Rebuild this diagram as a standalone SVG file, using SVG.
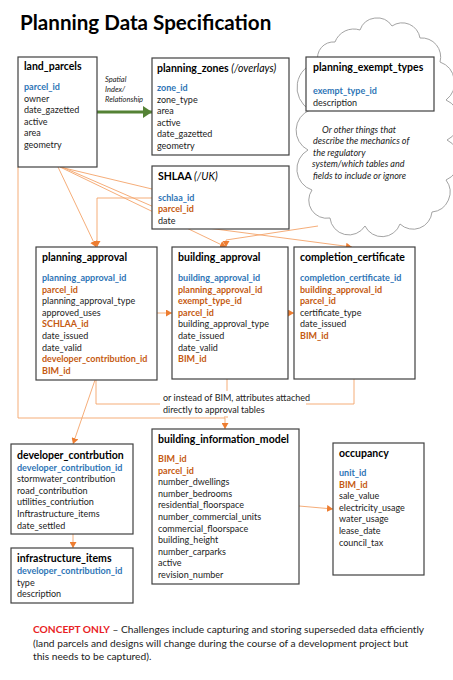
<svg xmlns="http://www.w3.org/2000/svg" width="453" height="680" viewBox="0 0 453 680">
<style>
text{font-family:Lato,"Liberation Sans",sans-serif;fill:#222}
.h{font-size:20.6px;font-weight:bold;fill:#000}
.t{font-size:10.5px;font-weight:bold;fill:#000}
.ti{font-style:italic;font-weight:normal}
.f{font-size:9px}
.pk{fill:#2e75b6;font-weight:bold}
.fk{fill:#c55a11;font-weight:bold}
.it{font-style:italic}
.box{fill:#fff;stroke:#404040;stroke-width:1.2}
.c{fill:none;stroke:#f4a46a;stroke-width:0.9}
.ca{fill:none;stroke:#f4a46a;stroke-width:0.9;marker-end:url(#oa)}
.red{fill:#e81e25;font-weight:bold}
</style>
<defs>
<marker id="oa" markerUnits="userSpaceOnUse" markerWidth="7" markerHeight="7" refX="6" refY="3.5" orient="auto">
<path d="M0,0 L6,3.5 L0,7 Z" fill="#ed7d31"/>
</marker>
<marker id="ga" markerUnits="userSpaceOnUse" markerWidth="10" markerHeight="12" refX="9" refY="6" orient="auto">
<path d="M0,0 L9,6 L0,12 Z" fill="#548235"/>
</marker>
</defs>
<rect width="453" height="680" fill="#fff"/>
<text class="h" x="20" y="30">Planning Data Specification</text>

<g id="connectors">
<polyline class="ca" points="58,167 96,247"/>
<polyline class="c" points="60,167 152,189"/>
<polyline class="ca" points="152,198 97,198 97,247"/>
<polyline class="ca" points="60,167 226,247"/>
<polyline class="ca" points="62,167 200,227 352,247"/>
<polyline class="ca" points="318,226 226,240 226,247"/>
<polyline class="ca" points="157,313 172,313"/>
<polyline class="ca" points="288,313 294,313"/>
<polyline class="c" points="96,380 96,404 225,404 225,418"/>
<polyline class="c" points="227,379 227,418"/>
<polyline class="c" points="354,379 354,404 300,404"/>
<polyline class="ca" points="18,167 18,418 225,418 225,429"/>
<polyline class="ca" points="95,380 73,444"/>
<polyline class="ca" points="73,534 73,548"/>
<polyline class="ca" points="299,506 333,509"/>
<line x1="97" y1="112" x2="152" y2="112" stroke="#548235" stroke-width="3" marker-end="url(#ga)"/>
<text class="it" font-size="7.5" x="105" y="81.5">Spatial</text>
<text class="it" font-size="7.5" x="105" y="91.5">Index/</text>
<text class="it" font-size="7.5" x="105" y="101.5">Relationship</text>
<rect x="160" y="391" width="146" height="25" fill="#fff"/>
<text class="f" font-size="9.3" x="163" y="401">or instead of BIM, attributes attached</text>
<text class="f" font-size="9.3" x="163" y="412.5">directly to approval tables</text>
</g>

<g id="cloud">
<path d="M318,62 A16,16 0 0 1 335,42 A20,20 0 0 1 360,30 A18,18 0 0 1 392,26 A18,18 0 0 1 420,38 A19,19 0 0 1 440,62 A22,22 0 0 1 446,100 A22,22 0 0 1 447,140 A22,22 0 0 1 446,180 A20,20 0 0 1 432,212 A19,19 0 0 1 400,224 A19,19 0 0 1 365,226 A19,19 0 0 1 330,218 A18,18 0 0 1 312,190 A22,22 0 0 1 308,150 A22,22 0 0 1 310,110 A26,26 0 0 1 318,62 Z" fill="#fff" stroke="#999" stroke-width="0.9"/>
<text class="f it" x="322" y="132.5">Or other things that</text>
<text class="f it" x="313" y="144">describe the mechanics of</text>
<text class="f it" x="313" y="155.5">the regulatory</text>
<text class="f it" x="312" y="167">system/which tables and</text>
<text class="f it" x="313" y="178.5">fields to include or ignore</text>
</g>

<g id="land_parcels">
<rect class="box" x="18" y="57" width="79" height="110"/>
<text class="t" x="24" y="70">land_parcels</text>
<text class="f pk" x="24" y="90">parcel_id</text>
<text class="f" x="24" y="101.6">owner</text>
<text class="f" x="24" y="113.2">date_gazetted</text>
<text class="f" x="24" y="124.8">active</text>
<text class="f" x="24" y="136.4">area</text>
<text class="f" x="24" y="148">geometry</text>
</g>

<g id="planning_zones">
<rect class="box" x="152" y="58" width="137" height="97"/>
<text class="t" x="157" y="72">planning_zones <tspan class="ti">(/overlays)</tspan></text>
<text class="f pk" x="157" y="91">zone_id</text>
<text class="f" x="157" y="102.6">zone_type</text>
<text class="f" x="157" y="114.2">area</text>
<text class="f" x="157" y="125.8">active</text>
<text class="f" x="157" y="137.4">date_gazetted</text>
<text class="f" x="157" y="149">geometry</text>
</g>

<g id="shlaa">
<rect class="box" x="152" y="166" width="137" height="63"/>
<text class="t" x="158" y="180">SHLAA <tspan class="ti">(/UK)</tspan></text>
<text class="f pk" x="158" y="200.5">schlaa_id</text>
<text class="f fk" x="158" y="212.1">parcel_id</text>
<text class="f" x="158" y="223.7">date</text>
</g>

<g id="planning_exempt_types">
<rect class="box" x="306" y="57" width="128" height="54"/>
<text class="t" x="313" y="71">planning_exempt_types</text>
<text class="f pk" x="313" y="94">exempt_type_id</text>
<text class="f" x="313" y="105.6">description</text>
</g>

<g id="planning_approval">
<rect class="box" x="36" y="247" width="121" height="133"/>
<text class="t" x="42" y="261">planning_approval</text>
<text class="f pk" x="42" y="281">planning_approval_id</text>
<text class="f fk" x="42" y="292.6">parcel_id</text>
<text class="f" x="42" y="304.2">planning_approval_type</text>
<text class="f" x="42" y="315.8">approved_uses</text>
<text class="f fk" x="42" y="327.4">SCHLAA_id</text>
<text class="f" x="42" y="339">date_issued</text>
<text class="f" x="42" y="350.6">date_valid</text>
<text class="f fk" x="42" y="362.2">developer_contribution_id</text>
<text class="f fk" x="42" y="373.8">BIM_id</text>
</g>

<g id="building_approval">
<rect class="box" x="172" y="247" width="116" height="132"/>
<text class="t" x="178" y="261">building_approval</text>
<text class="f pk" x="178" y="281">building_approval_id</text>
<text class="f fk" x="178" y="292.6">planning_approval_id</text>
<text class="f fk" x="178" y="304.2">exempt_type_id</text>
<text class="f fk" x="178" y="315.8">parcel_id</text>
<text class="f" x="178" y="327.4">building_approval_type</text>
<text class="f" x="178" y="339">date_issued</text>
<text class="f" x="178" y="350.6">date_valid</text>
<text class="f fk" x="178" y="362.2">BIM_id</text>
</g>

<g id="completion_certificate">
<rect class="box" x="294" y="247" width="121" height="132"/>
<text class="t" x="300" y="261">completion_certificate</text>
<text class="f pk" x="300" y="281">completion_certificate_id</text>
<text class="f fk" x="300" y="292.6">building_approval_id</text>
<text class="f fk" x="300" y="304.2">parcel_id</text>
<text class="f" x="300" y="315.8">certificate_type</text>
<text class="f" x="300" y="327.4">date_issued</text>
<text class="f fk" x="300" y="339">BIM_id</text>
</g>

<g id="developer_contribution">
<rect class="box" x="11" y="444" width="122" height="90"/>
<text class="t" x="17" y="459">developer_contrbution</text>
<text class="f pk" x="17" y="470.5">developer_contribution_id</text>
<text class="f" x="17" y="482.1">stormwater_contribution</text>
<text class="f" x="17" y="493.7">road_contribution</text>
<text class="f" x="17" y="505.3">utilities_contriution</text>
<text class="f" x="17" y="516.9">Inftrastructure_items</text>
<text class="f" x="17" y="528.5">date_settled</text>
</g>

<g id="infrastructure_items">
<rect class="box" x="11" y="548" width="122" height="55"/>
<text class="t" x="17" y="562">infrastructure_items</text>
<text class="f pk" x="17" y="574">developer_contribution_id</text>
<text class="f" x="17" y="585.6">type</text>
<text class="f" x="17" y="597.2">description</text>
</g>

<g id="building_information_model">
<rect class="box" x="152" y="429" width="147" height="155"/>
<text class="t" x="158" y="443">building_information_model</text>
<text class="f fk" x="158" y="462">BIM_id</text>
<text class="f fk" x="158" y="473.6">parcel_id</text>
<text class="f" x="158" y="485.2">number_dwellings</text>
<text class="f" x="158" y="496.8">number_bedrooms</text>
<text class="f" x="158" y="508.4">residential_floorspace</text>
<text class="f" x="158" y="520">number_commercial_units</text>
<text class="f" x="158" y="531.6">commercial_floorspace</text>
<text class="f" x="158" y="543.2">building_height</text>
<text class="f" x="158" y="554.8">number_carparks</text>
<text class="f" x="158" y="566.4">active</text>
<text class="f" x="158" y="578">revision_number</text>
</g>

<g id="occupancy">
<rect class="box" x="333" y="443" width="91" height="132"/>
<text class="t" x="339" y="457">occupancy</text>
<text class="f pk" x="339" y="476">unit_id</text>
<text class="f fk" x="339" y="487.6">BIM_id</text>
<text class="f" x="339" y="499.2">sale_value</text>
<text class="f" x="339" y="510.8">electricity_usage</text>
<text class="f" x="339" y="522.4">water_usage</text>
<text class="f" x="339" y="534">lease_date</text>
<text class="f" x="339" y="545.6">council_tax</text>
</g>

<g id="note">
<text font-size="10.2" x="33" y="633"><tspan class="red">CONCEPT ONLY</tspan> – Challenges include capturing and storing superseded data efficiently</text>
<text font-size="10.2" x="33" y="646.5">(land parcels and designs will change during the course of a development project but</text>
<text font-size="10.2" x="33" y="659.5">this needs to be captured).</text>
</g>
</svg>
